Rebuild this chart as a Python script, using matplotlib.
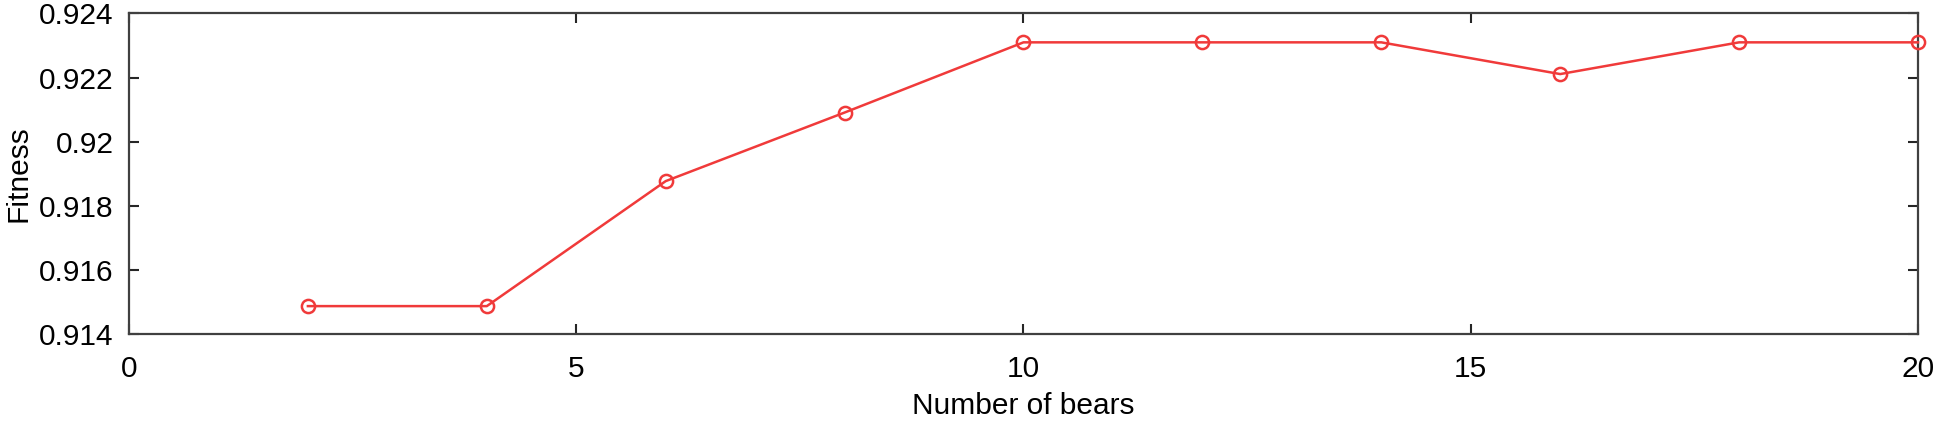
import matplotlib.pyplot as plt

# data
num_bears = [2, 4, 6, 8, 10, 12, 14, 16, 18, 20]
fitness = [0.91487, 0.91487, 0.91877, 0.92091, 0.92310, 0.92310, 0.92310, 0.92211, 0.92310, 0.92310]

x_ticks = [0, 5, 10, 15, 20]
y_ticks = [0.914, 0.916, 0.918, 0.92, 0.922, 0.924]
y_tick_labels = ['0.914', '0.916', '0.918', '0.92', '0.922', '0.924']

plt.rcParams['font.family'] = ['Liberation Sans', 'DejaVu Sans']

fig = plt.figure(figsize=(19.4, 4.23), dpi=100)
ax = fig.add_axes([129 / 1940, 1 - 334 / 423, (1918 - 129) / 1940, (334 - 13.5) / 423])

ax.plot(num_bears, fitness, color='#f03a3a', linewidth=1.8, marker='o',
        markersize=9.5, markerfacecolor='none', markeredgecolor='#f03a3a',
        markeredgewidth=1.8, clip_on=False, zorder=3)

ax.set_xlim(0, 20)
ax.set_ylim(0.914, 0.924)
ax.set_xticks(x_ticks)
ax.set_yticks(y_ticks)
ax.set_yticklabels(y_tick_labels)

ax.tick_params(direction='in', length=7, width=1.5, color='#262626',
               top=True, right=True, labelsize=21.5)
ax.tick_params(axis='x', pad=15)
ax.tick_params(axis='y', pad=11)
for spine in ax.spines.values():
    spine.set_linewidth(1.6)
    spine.set_color('#404040')

ax.set_xlabel('Number of bears', fontsize=21.5)
ax.set_ylabel('Fitness', fontsize=21.5)
ax.xaxis.set_label_coords(0.5, -0.18)
ax.yaxis.set_label_coords(-0.054, 0.5)

fig.savefig('out.png', dpi=100, facecolor='white')
